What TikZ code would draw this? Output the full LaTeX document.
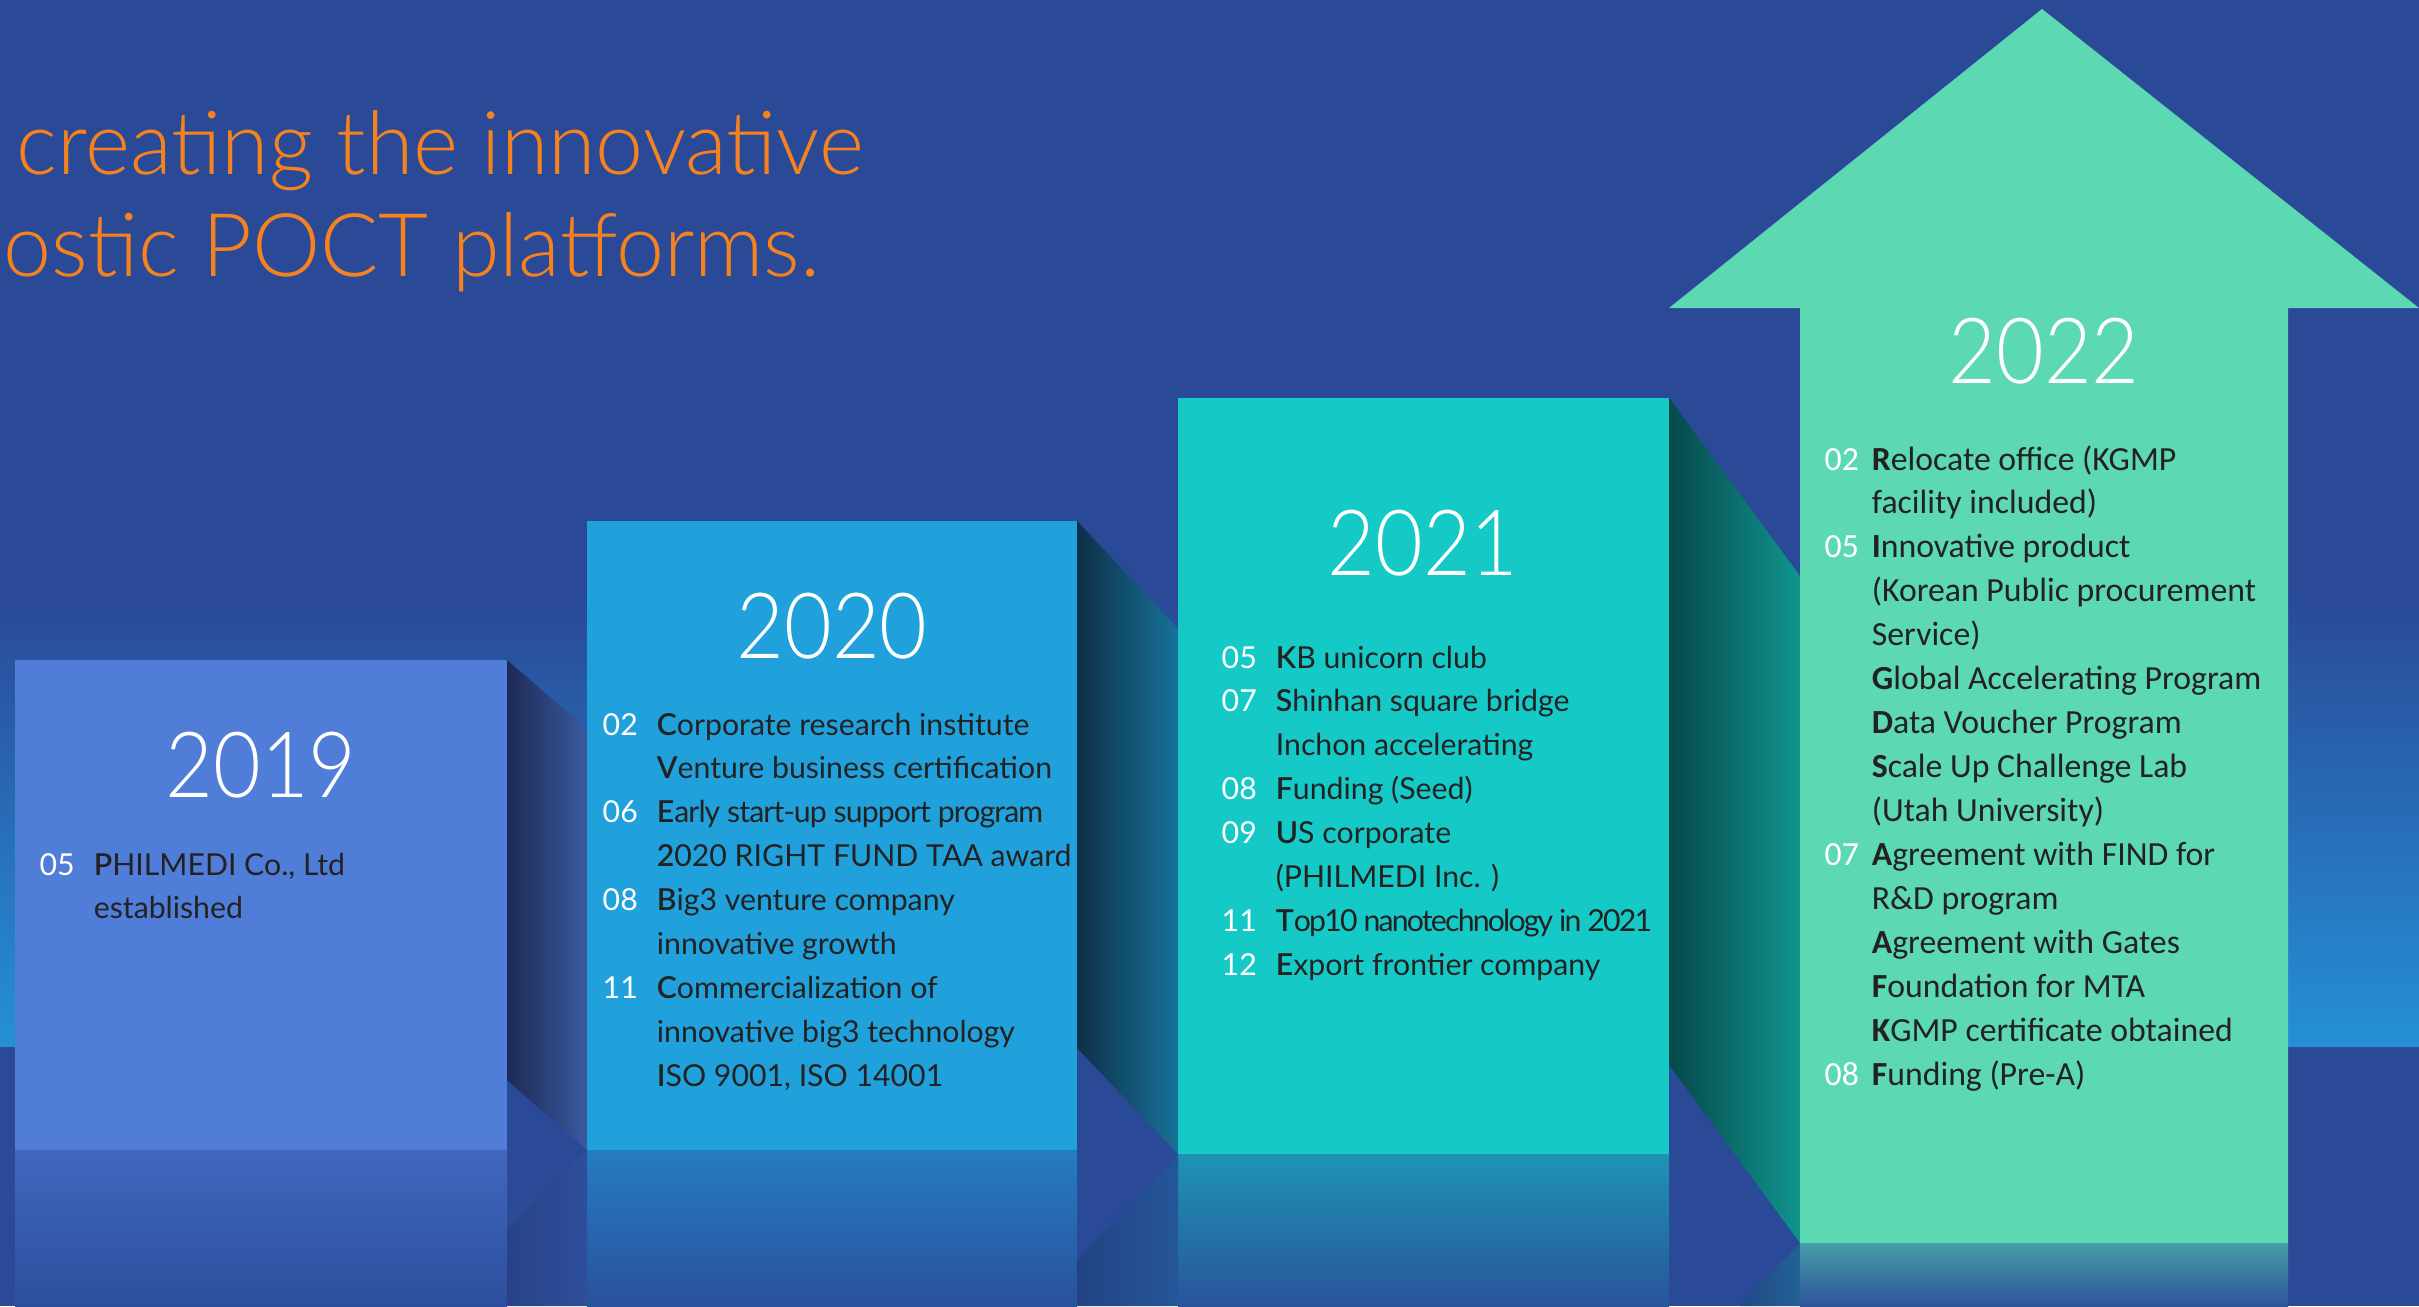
\documentclass[tikz,border=0pt]{standalone}
\usepackage{fontspec}
\setmainfont{Lato}
\newfontfamily\yearfont{Lato Light}[FakeStretch=0.9]
\newfontfamily\titlefont{Lato Light}[FakeStretch=0.98]
\newfontfamily\semifont{Lato Semibold}
\newfontfamily\narrowfont{Carlito}
\usepackage{xcolor}
\usepackage{tikz}
\usetikzlibrary{positioning}

\definecolor{bgblue}{HTML}{2A4A98}
\definecolor{bandblue}{HTML}{2590D6}
\definecolor{titleorange}{HTML}{F5821F}
\definecolor{boxa}{HTML}{507DD8}
\definecolor{boxb}{HTML}{20A1DC}
\definecolor{boxc}{HTML}{15C9C7}
\definecolor{boxd}{HTML}{5CD9B3}
\definecolor{sidealeft}{HTML}{1E2A55}
\definecolor{sidearight}{HTML}{3A5AA0}
\definecolor{sidebleft}{HTML}{0D3048}
\definecolor{sidebright}{HTML}{17729A}
\definecolor{sideclleft}{HTML}{06484A}
\definecolor{sidecright}{HTML}{10958F}
\definecolor{itemgray}{HTML}{222222}

\newcommand\mon[1]{\textcolor{white}{#1}}
\newcommand\initial[1]{{\semifont#1}}
\newcommand\narrowinitial[1]{\textbf{#1}}
\newcommand\tight[2][-3]{{\addfontfeature{LetterSpace=#1}#2}}

\tikzset{
  titletext/.style={font=\titlefont\fontsize{25}{25}\selectfont, text=titleorange, inner sep=0pt, anchor=base west},
  yearlabel/.style={font=\yearfont\fontsize{26}{26}\selectfont, text=white, inner sep=0pt, anchor=base},
  itemlist/.style={font=\fontsize{8.6}{12.5}\selectfont, text=itemgray, inner sep=0pt, anchor=base west},
  itemlistnarrow/.style={itemlist, font=\narrowfont\fontsize{9.6}{12.5}\selectfont},
  mirror/.style={top color=#1!58!bgblue, bottom color=bgblue!92!#1},
}

\begin{document}
\begin{tikzpicture}[x=0.01cm,y=-0.01cm]
  \useasboundingbox (0,0) rectangle (2419,1306);
  \fill[bgblue] (0,0) rectangle (2419,1306); % background
  \shade[top color=bgblue, bottom color=bandblue] (0,600) rectangle (2419,1046); % light band behind the steps

  % reflections on the floor
  \shade[mirror=boxa] (15,1150) rectangle (507,1306);
  \shade[mirror=boxb] (587,1150) rectangle (1077,1306);
  \shade[mirror=boxc] (1178,1154) rectangle (1669,1306);
  \shade[mirror=boxd] (1800,1243) rectangle (2288,1306);
  \shade[left color=sidealeft!25!bgblue, right color=sidearight!30!bgblue] (507,1230) -- (587,1150) -- (587,1306) -- (507,1306) -- cycle;
  \shade[left color=sidebleft!25!bgblue, right color=sidebright!30!bgblue] (1077,1260) -- (1178,1154) -- (1178,1306) -- (1077,1306) -- cycle;
  \shade[left color=sideclleft!25!bgblue, right color=sidecright!30!bgblue] (1740,1306) -- (1800,1243) -- (1800,1306) -- cycle;

  % side faces between the steps
  \shade[left color=sidealeft, right color=sidearight] (507,660) -- (587,729) -- (587,1150) -- (507,1080) -- cycle;
  \shade[left color=sidebleft, right color=sidebright] (1077,521) -- (1178,629) -- (1178,1154) -- (1077,1048) -- cycle;
  \shade[left color=sideclleft, right color=sidecright] (1669,398) -- (1800,576) -- (1800,1243) -- (1669,1065) -- cycle;

  % the steps
  \fill[boxa] (15,660) rectangle (507,1150); % 2019
  \fill[boxb] (587,521) rectangle (1077,1150); % 2020
  \fill[boxc] (1178,398) rectangle (1669,1154); % 2021
  \fill[boxd] (1800,1243) -- (1800,308) -- (1669,308) -- (2042,9) -- (2419,308) -- (2288,308) -- (2288,1243) -- cycle; % 2022 arrow

  % title
  \node[titletext] (title1) at (16,174) {creating the innovative};
  \node[titletext] (title2) at (3,276) {ostic POCT platforms.};

  % years
  \node[yearlabel] (y2019) at (261,797) {2019};
  \node[yearlabel] (y2020) at (832,658) {2020};
  \node[yearlabel] (y2021) at (1423,575) {2021};
  \node[yearlabel] (y2022) at (2044,383) {2022};

  % events
  \node[itemlist] (e2019) at (39,875) {\begin{tabular}[t]{@{}p{15.4pt}@{}l@{}}
    \mon{05} & \initial{P}HILMEDI Co., Ltd\\
             & established
  \end{tabular}};
  \node[itemlist] (e2020) at (602,735) {\begin{tabular}[t]{@{}p{15.4pt}@{}l@{}}
    \mon{02} & \initial{C}orporate research institute\\
             & \initial{V}enture business certification\\
    \mon{06} & \tight{\initial{E}arly start-up support program}\\
             & \initial{2}020 RIGHT FUND TAA award\\
    \mon{08} & \initial{B}ig3 venture company\\
             & innovative growth\\
    \mon{11} & \initial{C}ommercialization of\\
             & innovative big3 technology\\
             & \initial{I}SO 9001, ISO 14001
  \end{tabular}};
  \node[itemlist] (e2021) at (1221,668) {\begin{tabular}[t]{@{}p{15.4pt}@{}l@{}}
    \mon{05} & \initial{K}B unicorn club\\
    \mon{07} & \initial{S}hinhan square bridge\\
             & Inchon accelerating\\
    \mon{08} & \initial{F}unding (Seed)\\
    \mon{09} & \initial{U}S corporate\\
             & (PHILMEDI Inc. )\\
    \mon{11} & \tight[-6]{\initial{T}op10 nanotechnology in 2021}\\
    \mon{12} & \initial{E}xport frontier company
  \end{tabular}};
  \node[itemlistnarrow] (e2022) at (1824,470) {\begin{tabular}[t]{@{}p{13.4pt}@{}l@{}}
    \mon{02} & \narrowinitial{R}elocate office (KGMP\\
             & facility included)\\
    \mon{05} & \narrowinitial{I}nnovative product\\
             & (Korean Public procurement\\
             & Service)\\
             & \narrowinitial{G}lobal Accelerating Program\\
             & \narrowinitial{D}ata Voucher Program\\
             & \narrowinitial{S}cale Up Challenge Lab\\
             & (Utah University)\\
    \mon{07} & \narrowinitial{A}greement with FIND for\\
             & R\&D program\\
             & \narrowinitial{A}greement with Gates\\
             & \narrowinitial{F}oundation for MTA\\
             & \narrowinitial{K}GMP certificate obtained\\
    \mon{08} & \narrowinitial{F}unding (Pre-A)
  \end{tabular}};
\end{tikzpicture}
\end{document}
